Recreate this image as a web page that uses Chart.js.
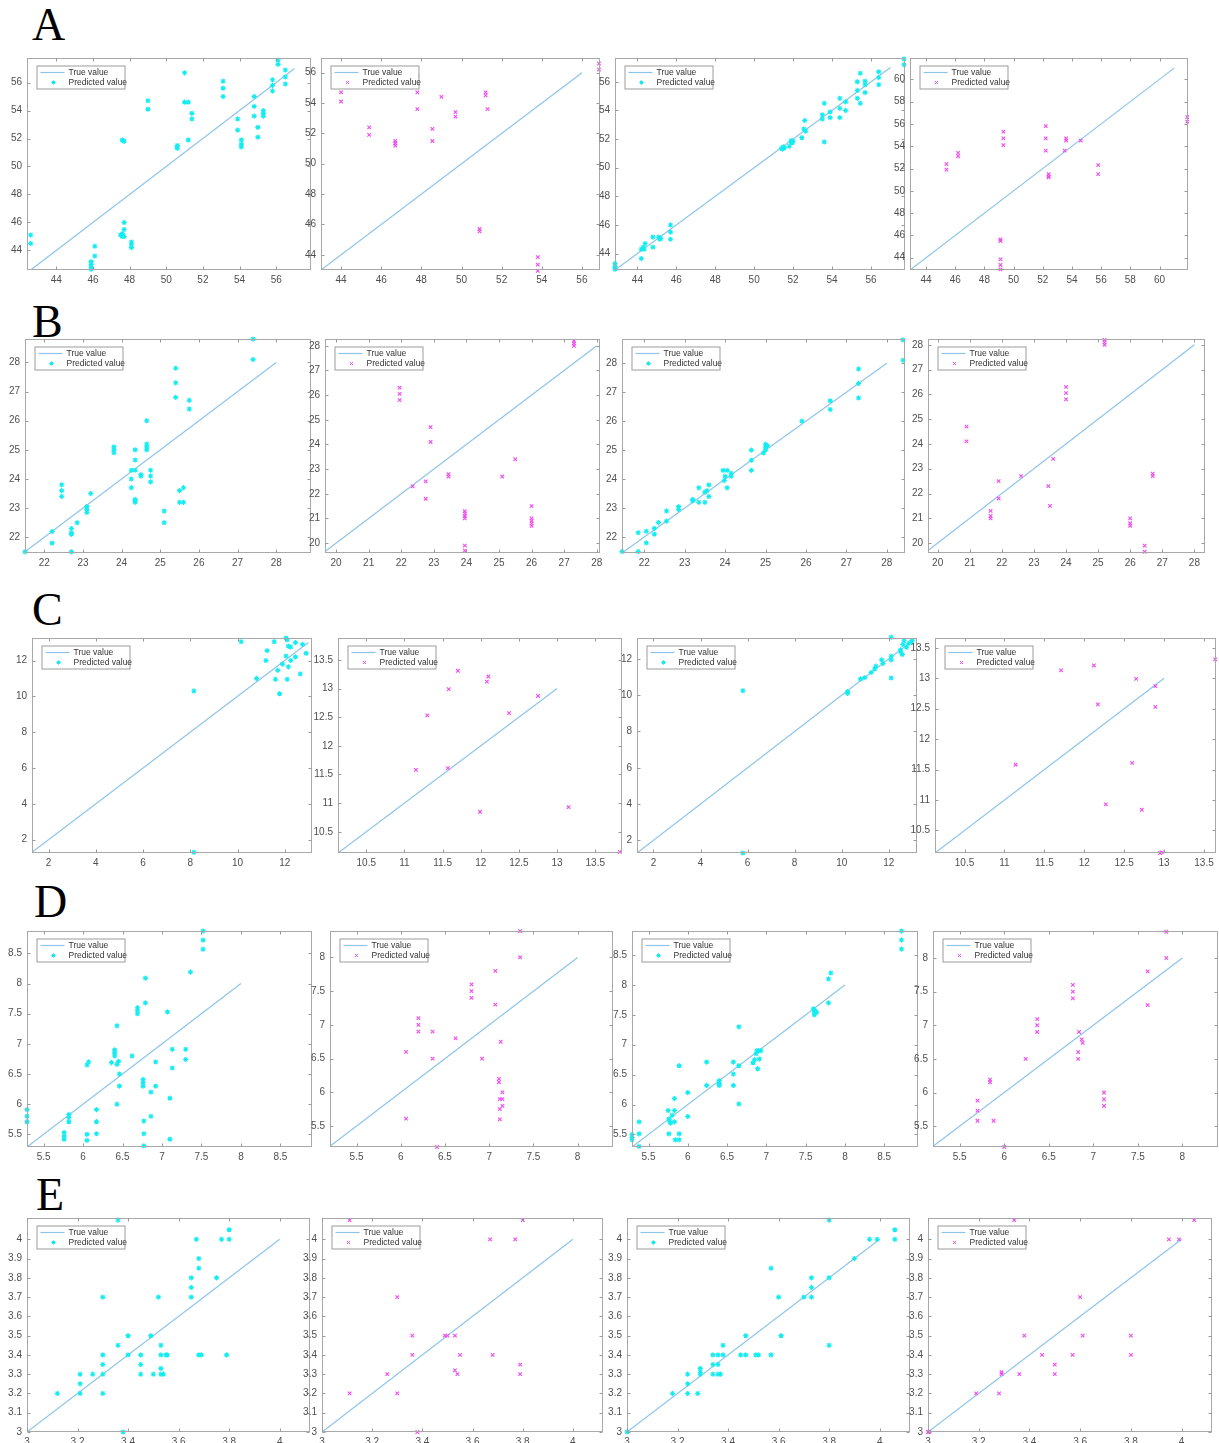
<!DOCTYPE html>
<html>
<head>
<meta charset="utf-8">
<script src="https://cdn.jsdelivr.net/npm/chart.js@4.4.0/dist/chart.umd.min.js"></script>
<style>
  html, body { margin: 0; padding: 0; background: #fff; overflow: hidden; }
  body { width: 1219px; height: 1443px; position: relative; }
  canvas { position: absolute; }
  .tag { position: absolute; font-family: "Liberation Serif", "DejaVu Serif", serif; font-size: 46px; line-height: 1; color: #000; }
</style>
</head>
<body>
<div class="tag" style="left:32px;top:2px">A</div>
<div class="tag" style="left:32px;top:299px">B</div>
<div class="tag" style="left:32px;top:587px">C</div>
<div class="tag" style="left:34px;top:879px">D</div>
<div class="tag" style="left:36px;top:1172px">E</div>
<script>
// --- data: [true value, predicted value] pairs ---
const a1Pred = [[42.6,45.1],[42.6,44.5],[45.9,43.2],[45.9,43.0],[45.9,42.8],[45.9,42.65],[46.1,44.3],[46.1,43.6],
  [47.5,45.1],[47.6,45.2],[47.6,45.0],[47.7,46.0],[47.7,45.5],[47.7,45.0],[47.6,51.9],[47.7,51.8],[47.65,51.85],
  [48.1,44.6],[48.1,44.4],[48.1,44.2],[49.0,54.7],[49.0,54.1],[50.6,51.5],[50.6,51.4],[50.6,51.3],
  [51.0,56.7],[51.0,54.6],[51.2,54.6],[51.2,51.9],[51.4,53.8],[51.4,53.4],[53.1,56.1],[53.1,55.6],[53.1,55.0],
  [53.9,53.4],[53.9,52.6],[54.1,51.9],[54.1,51.6],[54.1,51.4],[54.8,55.0],[54.8,54.3],[54.8,53.6],
  [55.0,52.8],[55.0,52.1],[55.3,54.0],[55.3,53.8],[55.3,53.6],[55.8,56.2],[55.8,55.8],[55.8,55.4],
  [56.1,57.6],[56.1,57.3],[56.5,56.9],[56.5,56.4],[56.5,55.9]];
const a2Pred = [[44.0,54.7],[44.0,54.1],[45.4,52.4],[45.4,51.9],[46.7,51.5],[46.7,51.35],[46.7,51.2],
  [47.8,55.8],[47.8,54.7],[47.8,53.6],[48.55,52.3],[48.55,51.5],[49.0,54.4],[49.7,53.4],[49.7,53.1],
  [50.9,45.7],[50.9,45.55],[51.2,54.7],[51.2,54.5],[51.3,53.6],[53.8,43.85],[53.8,43.35],[53.8,42.95],
  [56.85,56.6],[56.85,56.2]];
const a3Pred = [[42.85,43.3],[42.85,43.1],[42.85,43.0],[42.85,42.9],[44.2,43.65],[44.2,44.3],[44.3,44.45],
  [44.35,44.3],[44.4,44.7],[44.8,45.15],[44.8,44.45],[45.1,45.15],[45.15,45.0],[45.2,45.05],
  [45.7,46.0],[45.7,45.5],[45.7,45.0],[51.4,51.35],[51.45,51.3],[51.5,51.45],[51.55,51.4],
  [51.8,51.5],[51.9,51.8],[51.9,51.9],[51.95,51.75],[52.0,51.85],[52.45,52.1],[52.55,52.7],[52.6,53.3],
  [52.65,52.55],[53.5,53.7],[53.5,53.4],[53.6,54.5],[53.6,51.8],[53.9,53.9],[53.9,53.5],
  [54.4,54.85],[54.4,54.15],[54.4,53.5],[54.7,54.6],[54.7,54.0],[55.3,56.0],[55.3,55.4],[55.3,54.85],
  [55.45,56.6],[55.45,54.5],[55.7,56.05],[55.7,55.8],[55.7,55.25],[56.4,56.7],[56.4,56.3],[56.4,55.8],
  [57.7,57.6],[57.7,57.2]];
const a4Pred = [[45.4,52.4],[45.4,51.9],[46.2,53.4],[46.2,53.1],[49.1,45.65],[49.1,45.5],[49.1,43.85],
  [49.1,43.35],[49.1,42.95],[49.3,55.3],[49.3,54.7],[49.3,54.1],[52.2,55.8],[52.2,54.7],[52.2,53.6],
  [52.4,51.5],[52.4,51.3],[52.4,51.2],[53.6,54.7],[53.6,54.5],[53.5,53.6],[54.6,54.5],
  [55.8,52.3],[55.8,51.5],[61.9,56.6],[61.9,56.2]];

const b1Pred = [[21.5,21.5],[22.2,22.2],[22.2,21.8],[22.45,23.8],[22.45,23.6],[22.45,23.4],
  [22.7,22.3],[22.7,22.15],[22.7,22.1],[22.7,21.5],[22.85,22.5],[23.1,23.05],[23.1,22.95],[23.1,22.85],
  [23.2,23.5],[23.8,25.1],[23.8,25.0],[23.8,24.9],[24.25,24.3],[24.25,24.0],[24.25,23.7],
  [24.35,25.0],[24.35,24.65],[24.35,24.3],[24.35,23.3],[24.35,23.2],[24.35,23.25],[24.5,24.15],[24.5,24.1],
  [24.65,26.0],[24.65,25.2],[24.65,25.1],[24.65,25.0],[24.75,24.3],[24.75,24.1],[24.75,23.9],
  [25.1,22.9],[25.1,22.5],[25.4,27.8],[25.4,27.3],[25.4,26.8],[25.5,23.6],[25.5,23.2],[25.6,23.7],[25.6,23.2],
  [25.75,26.7],[25.75,26.4],[27.4,28.8],[27.4,28.1]];
const b2Pred = [[21.95,26.3],[21.95,26.05],[21.95,25.8],[22.35,22.3],[22.75,22.5],[22.75,21.8],
  [22.9,24.7],[22.9,24.1],[23.45,22.8],[23.45,22.7],[23.95,21.3],[23.95,21.2],[23.95,21.1],[23.95,21.0],
  [23.95,19.9],[23.95,19.7],[25.1,22.7],[25.5,23.4],[26.0,21.5],[26.0,21.0],[26.0,20.9],[26.0,20.8],
  [26.0,20.7],[27.3,28.2],[27.3,28.1],[27.3,28.0]];
const b3Pred = [[21.45,21.5],[21.85,22.15],[21.85,21.5],[22.05,22.2],[22.05,21.8],[22.25,22.3],[22.25,22.1],
  [22.35,22.5],[22.55,22.9],[22.55,22.55],[22.85,23.05],[22.85,22.95],[23.2,23.3],[23.2,23.25],
  [23.35,23.7],[23.35,23.2],[23.5,23.55],[23.55,23.6],[23.5,23.2],[23.6,23.8],[23.6,23.4],
  [23.95,24.3],[24.05,24.3],[24.0,24.1],[23.98,23.95],[24.05,23.7],[24.15,24.2],[24.15,24.1],
  [24.65,25.0],[24.65,24.65],[24.65,24.3],[25.0,25.2],[25.0,25.1],[25.0,25.0],[24.95,24.9],[25.05,25.15],
  [25.9,26.0],[26.6,26.7],[26.6,26.4],[27.3,27.8],[27.3,27.3],[27.3,26.8],[28.4,28.8],[28.4,28.1]];
const b4Pred = [[20.9,24.7],[20.9,24.1],[21.65,21.3],[21.65,21.1],[21.65,21.0],[21.9,22.5],[21.9,21.8],
  [22.6,22.7],[23.45,22.3],[23.5,21.5],[23.6,23.4],[24.0,26.3],[24.0,26.05],[24.0,25.8],
  [25.2,28.2],[25.2,28.1],[25.2,28.0],[26.0,21.0],[26.0,20.8],[26.0,20.7],[26.45,19.9],[26.45,19.65],
  [26.7,22.8],[26.7,22.7]];

const c1Pred = [[8.15,10.3],[8.15,1.3],[10.15,13.05],[10.8,11.0],[11.2,12.0],[11.25,12.55],[11.55,13.05],
  [11.6,10.95],[11.7,11.45],[11.78,10.15],[11.9,11.8],[12.05,13.25],[12.1,13.15],[12.05,12.25],[12.1,10.95],
  [12.15,11.65],[12.15,12.8],[12.25,12.75],[12.25,12.0],[12.45,12.2],[12.45,13.0],[12.65,11.25],
  [12.75,12.9],[12.9,12.4]];
const c2Pred = [[11.15,11.58],[11.3,12.53],[11.58,12.99],[11.57,11.61],[11.7,13.31],[11.99,10.85],
  [12.08,13.12],[12.1,13.21],[12.37,12.57],[12.75,12.87],[13.15,10.93],[13.82,10.15]];
const c3Pred = [[5.8,10.25],[5.8,1.3],[10.25,10.2],[10.25,10.1],[10.8,10.9],[10.98,10.97],[11.25,11.25],
  [11.4,11.45],[11.45,11.6],[11.7,11.95],[11.75,11.75],[12.1,13.2],[12.1,12.15],[12.1,11.95],[12.1,10.95],
  [12.5,12.5],[12.5,12.4],[12.6,12.8],[12.57,12.25],[12.65,13.0],[12.75,12.65],[12.85,12.85],
  [12.95,12.95],[13.0,13.0]];
const c4Pred = [[11.14,11.58],[11.71,13.13],[12.12,13.21],[12.17,12.57],[12.27,10.93],[12.6,11.61],
  [12.65,12.99],[12.72,10.84],[12.89,12.87],[12.89,12.53],[12.97,10.14],[12.95,10.13],[13.64,13.31]];

const d1Pred = [[5.29,5.91],[5.29,5.8],[5.29,5.71],[5.76,5.53],[5.76,5.47],[5.76,5.42],[5.82,5.83],
  [5.82,5.78],[5.82,5.71],[6.05,5.5],[6.05,5.4],[6.05,6.65],[6.07,6.7],[6.17,5.91],[6.17,5.71],[6.17,5.51],
  [6.36,6.69],[6.4,6.9],[6.4,6.85],[6.4,6.8],[6.43,7.3],[6.43,6.66],[6.43,6.0],[6.45,6.71],[6.46,6.5],
  [6.46,6.3],[6.62,6.8],[6.69,7.6],[6.69,7.55],[6.69,7.5],[6.76,6.41],[6.76,6.36],[6.76,6.3],
  [6.77,5.72],[6.77,5.51],[6.77,5.31],[6.79,8.09],[6.79,7.68],[6.86,6.2],[6.86,5.8],[6.92,6.7],[6.92,6.3],
  [7.07,7.53],[7.1,6.1],[7.1,5.42],[7.13,6.91],[7.13,6.6],[7.3,6.91],[7.3,6.74],[7.36,8.19],
  [7.52,8.87],[7.52,8.72],[7.52,8.57]];
const d2Pred = [[6.06,5.61],[6.06,6.6],[6.2,7.1],[6.2,7.0],[6.2,6.9],[6.36,6.9],[6.36,6.5],[6.41,5.19],
  [6.62,6.8],[6.8,7.6],[6.8,7.5],[6.8,7.4],[6.92,6.5],[7.07,7.8],[7.07,7.3],[7.11,6.2],[7.11,6.15],
  [7.13,6.75],[7.12,5.9],[7.15,5.9],[7.15,6.0],[7.15,5.8],[7.12,5.75],[7.12,5.6],[7.35,8.39],[7.35,8.0]];
const d3Pred = [[5.29,5.5],[5.29,5.45],[5.29,5.41],[5.38,5.71],[5.38,5.51],[5.38,5.3],[5.75,5.9],
  [5.76,5.76],[5.77,5.72],[5.78,5.69],[5.76,5.51],[5.8,5.82],[5.83,5.9],[5.83,6.1],[5.83,5.71],
  [5.84,5.41],[5.89,5.41],[5.89,5.51],[5.89,6.65],[6.0,6.2],[6.0,5.8],[6.24,6.71],[6.24,6.32],
  [6.4,6.4],[6.4,6.35],[6.4,6.32],[6.58,6.71],[6.58,6.51],[6.58,6.32],[6.65,7.3],[6.65,6.65],[6.65,6.01],
  [6.83,6.7],[6.85,6.75],[6.87,6.85],[6.9,6.9],[6.88,6.9],[6.93,6.9],[6.89,6.6],[6.91,6.76],
  [7.6,7.6],[7.61,7.55],[7.61,7.5],[7.62,7.57],[7.64,7.54],[7.79,7.7],[7.79,8.1],[7.82,8.2],
  [8.72,8.9],[8.72,8.75],[8.72,8.6]];
const d4Pred = [[5.7,5.88],[5.7,5.73],[5.7,5.58],[5.84,6.19],[5.84,6.15],[5.88,5.58],[6.0,5.19],
  [6.24,6.5],[6.37,7.09],[6.37,7.0],[6.37,6.9],[6.77,7.6],[6.77,7.5],[6.77,7.4],[6.83,6.6],[6.83,6.5],
  [6.84,6.9],[6.87,6.79],[6.88,6.74],[7.12,6.0],[7.12,5.9],[7.12,5.8],[7.61,7.8],[7.61,7.3],
  [7.82,8.39],[7.82,8.0]];

const e1Pred = [[3.12,3.2],[3.21,3.3],[3.21,3.25],[3.21,3.2],[3.26,3.3],[3.3,3.7],[3.3,3.4],[3.3,3.35],
  [3.3,3.3],[3.3,3.2],[3.36,4.1],[3.36,3.45],[3.38,3.0],[3.4,3.5],[3.4,3.4],[3.45,3.4],[3.45,3.35],
  [3.45,3.3],[3.49,3.5],[3.5,3.3],[3.52,3.7],[3.53,3.45],[3.53,3.4],[3.53,3.33],[3.53,3.3],[3.54,3.3],
  [3.55,3.4],[3.555,3.4],[3.65,3.8],[3.65,3.75],[3.65,3.7],[3.67,4.0],[3.68,3.4],[3.69,3.4],
  [3.68,3.9],[3.68,3.85],[3.75,3.8],[3.77,4.0],[3.79,3.4],[3.8,4.05],[3.8,4.0]];
const e2Pred = [[3.11,4.1],[3.11,3.2],[3.26,3.3],[3.3,3.7],[3.3,3.2],[3.36,3.5],[3.36,3.4],[3.38,3.0],
  [3.49,3.5],[3.5,3.5],[3.53,3.5],[3.53,3.32],[3.54,3.3],[3.55,3.4],[3.67,4.0],[3.68,3.4],[3.77,4.0],
  [3.8,4.1],[3.79,3.35],[3.79,3.3]];
const e3Pred = [[3.0,3.0],[3.18,3.2],[3.24,3.3],[3.24,3.25],[3.24,3.2],[3.28,3.2],[3.29,3.33],[3.29,3.31],
  [3.29,3.3],[3.34,3.4],[3.34,3.35],[3.34,3.3],[3.36,3.35],[3.36,3.4],[3.36,3.3],[3.37,3.3],
  [3.38,3.45],[3.38,3.4],[3.45,3.4],[3.47,3.4],[3.47,3.5],[3.51,3.4],[3.52,3.4],[3.57,3.85],[3.57,3.4],
  [3.6,3.7],[3.61,3.5],[3.7,3.7],[3.73,3.8],[3.73,3.75],[3.73,3.7],[3.8,4.1],[3.8,3.8],[3.8,3.45],
  [3.9,3.9],[3.96,4.0],[3.99,4.0],[4.06,4.05],[4.06,4.0]];
const e4Pred = [[3.0,3.0],[3.005,3.0],[3.19,3.2],[3.28,3.2],[3.29,3.31],[3.29,3.3],[3.34,4.1],[3.36,3.3],
  [3.38,3.5],[3.45,3.4],[3.5,3.35],[3.5,3.3],[3.57,3.4],[3.6,3.7],[3.61,3.5],[3.8,3.5],[3.8,3.4],
  [3.95,4.0],[3.99,4.0],[4.05,4.1]];

// axis limits [xmin, xmax, ymin, ymax] and the ends of the y = x line
const a1Lim = [42.4, 57.9, 42.6, 57.75], a1Line = [42.6, 57];
const a2Lim = [43, 56.9, 43, 56.96],     a2Line = [43, 56];
const a3Lim = [42.85, 57.75, 42.85, 57.66], a3Line = [42.85, 57];
const a4Lim = [42.9, 61.95, 42.9, 61.9], a4Line = [42.9, 61];
const b1Lim = [21.5, 28.9, 21.46, 28.8], b1Line = [21.5, 28];
const b2Lim = [19.66, 28.1, 19.6, 28.27], b2Line = [19.66, 28];
const b3Lim = [21.45, 28.45, 21.45, 28.83], b3Line = [21.45, 28];
const b4Lim = [19.7, 28.33, 19.6, 28.23], b4Line = [19.65, 28];
const c1Lim = [1.3, 13.15, 1.26, 13.25], c1Line = [1.3, 13];
const c2Lim = [10.13, 13.85, 10.13, 13.88], c2Line = [10.13, 13];
const c3Lim = [1.3, 13.2, 1.3, 13.15], c3Line = [1.3, 13];
const c4Lim = [10.13, 13.65, 10.13, 13.66], c4Line = [10.13, 13];
const d1Lim = [5.29, 8.9, 5.29, 8.87], d1Line = [5.29, 8];
const d2Lim = [5.2, 8.4, 5.19, 8.39], d2Line = [5.2, 8];
const d3Lim = [5.29, 8.93, 5.29, 8.9], d3Line = [5.29, 8];
const d4Lim = [5.2, 8.4, 5.19, 8.4], d4Line = [5.2, 8];
const eLim = [3, 4.12, 3, 4.11], eLine = [3, 4];

// tick labels
const t44to56 = [44, 46, 48, 50, 52, 54, 56];
const t44to60 = [44, 46, 48, 50, 52, 54, 56, 58, 60];
const t22to28 = [22, 23, 24, 25, 26, 27, 28];
const t20to28 = [20, 21, 22, 23, 24, 25, 26, 27, 28];
const t2to12 = [2, 4, 6, 8, 10, 12];
const t105to135 = [10.5, 11, 11.5, 12, 12.5, 13, 13.5];
const t55to85 = [5.5, 6, 6.5, 7, 7.5, 8, 8.5];
const t55to8 = [5.5, 6, 6.5, 7, 7.5, 8];
const t3to4Step2 = [3, 3.2, 3.4, 3.6, 3.8, 4];
const t3to4Step1 = [3, 3.1, 3.2, 3.3, 3.4, 3.5, 3.6, 3.7, 3.8, 3.9, 4];

// --- styles ---
const CYAN = '#14ecf0';
const MAGENTA = '#f04cf0';
const LINE_BLUE = '#8ec4ea';
const FRAME = '#a8a8a8';
const TICK_TEXT = '#4f4f4f';
const FONT = '"Liberation Sans", Arial, sans-serif';

const LEFT_W = 34;   // room for y tick labels
const BOTTOM_H = 18; // room for x tick labels
const PAD_T = 4, PAD_R = 6;

// --- layout: plot box [left, top, right, bottom] in page pixels ---
const panels = [
  { pts: a1Pred, lim: a1Lim, line: a1Line, xt: t44to56, yt: t44to56, mark: 'star', box: [27, 57, 311, 270] },
  { pts: a2Pred, lim: a2Lim, line: a2Line, xt: t44to56, yt: t44to56, mark: 'cross', box: [321, 57, 600, 270] },
  { pts: a3Pred, lim: a3Lim, line: a3Line, xt: t44to56, yt: t44to56, mark: 'star', box: [615, 57, 905, 270] },
  { pts: a4Pred, lim: a4Lim, line: a4Line, xt: t44to60, yt: t44to60, mark: 'cross', box: [910, 57, 1188, 270] },
  { pts: b1Pred, lim: b1Lim, line: b1Line, xt: t22to28, yt: t22to28, mark: 'star', box: [25, 338, 311, 553] },
  { pts: b2Pred, lim: b2Lim, line: b2Line, xt: t20to28, yt: t20to28, mark: 'cross', box: [325, 338, 600, 553] },
  { pts: b3Pred, lim: b3Lim, line: b3Line, xt: t22to28, yt: t22to28, mark: 'star', box: [622, 338, 905, 553] },
  { pts: b4Pred, lim: b4Lim, line: b4Line, xt: t20to28, yt: t20to28, mark: 'cross', box: [928, 338, 1205, 553] },
  { pts: c1Pred, lim: c1Lim, line: c1Line, xt: t2to12, yt: t2to12, mark: 'star', box: [32, 637, 312, 853] },
  { pts: c2Pred, lim: c2Lim, line: c2Line, xt: t105to135, yt: t105to135, mark: 'cross', box: [338, 637, 622, 853] },
  { pts: c3Pred, lim: c3Lim, line: c3Line, xt: t2to12, yt: t2to12, mark: 'star', box: [637, 637, 917, 853] },
  { pts: c4Pred, lim: c4Lim, line: c4Line, xt: t105to135, yt: t105to135, mark: 'cross', box: [935, 637, 1216, 853] },
  { pts: d1Pred, lim: d1Lim, line: d1Line, xt: t55to85, yt: t55to85, mark: 'star', box: [27, 930, 312, 1147] },
  { pts: d2Pred, lim: d2Lim, line: d2Line, xt: t55to8, yt: t55to8, mark: 'cross', box: [330, 930, 613, 1147] },
  { pts: d3Pred, lim: d3Lim, line: d3Line, xt: t55to85, yt: t55to85, mark: 'star', box: [632, 930, 918, 1147] },
  { pts: d4Pred, lim: d4Lim, line: d4Line, xt: t55to8, yt: t55to8, mark: 'cross', box: [933, 930, 1218, 1147] },
  { pts: e1Pred, lim: eLim, line: eLine, xt: t3to4Step2, yt: t3to4Step1, mark: 'star', box: [27, 1217, 310, 1432] },
  { pts: e2Pred, lim: eLim, line: eLine, xt: t3to4Step2, yt: t3to4Step1, mark: 'cross', box: [322, 1217, 603, 1432] },
  { pts: e3Pred, lim: eLim, line: eLine, xt: t3to4Step2, yt: t3to4Step1, mark: 'star', box: [627, 1217, 910, 1432] },
  { pts: e4Pred, lim: eLim, line: eLine, xt: t3to4Step2, yt: t3to4Step1, mark: 'cross', box: [928, 1217, 1212, 1432] }
];

// MATLAB-like box: frame, inward ticks on all four sides, legend in the upper left
const framePlugin = {
  id: 'matlabFrame',
  afterDraw(chart) {
    const { ctx, chartArea: a, scales } = chart;
    const sx = scales.x, sy = scales.y;
    const L = Math.round(a.left) + 0.5, R = Math.round(a.right) - 0.5;
    const T = Math.round(a.top) + 0.5, B = Math.round(a.bottom) - 0.5;
    ctx.save();
    ctx.strokeStyle = FRAME;
    ctx.lineWidth = 1;
    ctx.strokeRect(L, T, R - L, B - T);
    ctx.strokeStyle = '#9a9a9a';
    ctx.beginPath();
    sx.ticks.forEach(t => {
      const p = Math.round(sx.getPixelForValue(t.value)) + 0.5;
      ctx.moveTo(p, B); ctx.lineTo(p, B - 3);
      ctx.moveTo(p, T); ctx.lineTo(p, T + 3);
    });
    sy.ticks.forEach(t => {
      const p = Math.round(sy.getPixelForValue(t.value)) + 0.5;
      ctx.moveTo(L, p); ctx.lineTo(L + 3, p);
      ctx.moveTo(R, p); ctx.lineTo(R - 3, p);
    });
    ctx.stroke();

    // legend
    const pts = chart.data.datasets[0];
    const ln = chart.data.datasets[1];
    const lx = L + 9, ly = T + 7, lw = 88, lh = 23;
    ctx.fillStyle = '#fff';
    ctx.fillRect(lx, ly, lw, lh);
    ctx.strokeStyle = '#9c9c9c';
    ctx.strokeRect(lx + 0.5, ly + 0.5, lw, lh);
    ctx.strokeStyle = ln.borderColor;
    ctx.lineWidth = ln.borderWidth;
    ctx.beginPath();
    ctx.moveTo(lx + 4, ly + 7); ctx.lineTo(lx + 28, ly + 7);
    ctx.stroke();
    ctx.strokeStyle = pts.borderColor;
    ctx.fillStyle = pts.borderColor;
    ctx.lineWidth = 1;
    Chart.helpers.drawPoint(ctx, { pointStyle: pts.pointStyle, radius: 2.2, borderWidth: 1 }, lx + 17, ly + 17);
    ctx.fillStyle = '#333';
    ctx.font = '8.5px ' + FONT;
    ctx.textBaseline = 'middle';
    ctx.fillText('True value', lx + 32, ly + 7);
    ctx.fillText('Predicted value', lx + 32, ly + 17);
    ctx.restore();
  }
};

function fmt(v) { return String(Math.round(v * 100) / 100); }

function makeAxis(min, max, ticks, isY) {
  return {
    type: 'linear',
    position: isY ? 'left' : 'bottom',
    min: min, max: max,
    grid: { display: false, drawTicks: false },
    border: { display: false },
    afterBuildTicks: scale => { scale.ticks = ticks.map(v => ({ value: v })); },
    afterFit: scale => {
      if (isY) scale.width = LEFT_W; else scale.height = BOTTOM_H;
      scale.paddingLeft = 0; scale.paddingRight = 0;
      scale.paddingTop = 0; scale.paddingBottom = 0;
    },
    ticks: {
      autoSkip: false, maxRotation: 0, padding: isY ? 5 : 4,
      color: TICK_TEXT, font: { family: FONT, size: 10 },
      callback: v => fmt(v)
    }
  };
}

panels.forEach(p => {
  const [L, T, R, B] = p.box;
  const cv = document.createElement('canvas');
  const w = (R - L) + LEFT_W + PAD_R, h = (B - T) + PAD_T + BOTTOM_H;
  cv.width = w; cv.height = h;
  cv.style.left = (L - LEFT_W) + 'px';
  cv.style.top = (T - PAD_T) + 'px';
  cv.style.width = w + 'px'; cv.style.height = h + 'px';
  document.body.appendChild(cv);

  const isStar = p.mark === 'star';
  const col = isStar ? CYAN : MAGENTA;
  new Chart(cv, {
    type: 'scatter',
    data: {
      datasets: [
        {
          label: 'Predicted value',
          data: p.pts.map(d => ({ x: d[0], y: d[1] })),
          pointStyle: isStar ? 'star' : 'crossRot',
          pointRadius: isStar ? 2.6 : 2.5,
          borderColor: col, backgroundColor: col, borderWidth: 1.1,
          clip: false, order: 0
        },
        {
          label: 'True value',
          data: [{ x: p.line[0], y: p.line[0] }, { x: p.line[1], y: p.line[1] }],
          showLine: true, pointRadius: 0,
          borderColor: LINE_BLUE, borderWidth: 1.2,
          order: 1
        }
      ]
    },
    options: {
      responsive: false,
      animation: false,
      devicePixelRatio: 1,
      layout: { padding: { top: PAD_T, right: PAD_R, left: 0, bottom: 0 } },
      plugins: { legend: { display: false }, tooltip: { enabled: false } },
      scales: {
        x: makeAxis(p.lim[0], p.lim[1], p.xt, false),
        y: makeAxis(p.lim[2], p.lim[3], p.yt, true)
      }
    },
    plugins: [framePlugin]
  });
});
</script>
</body>
</html>
